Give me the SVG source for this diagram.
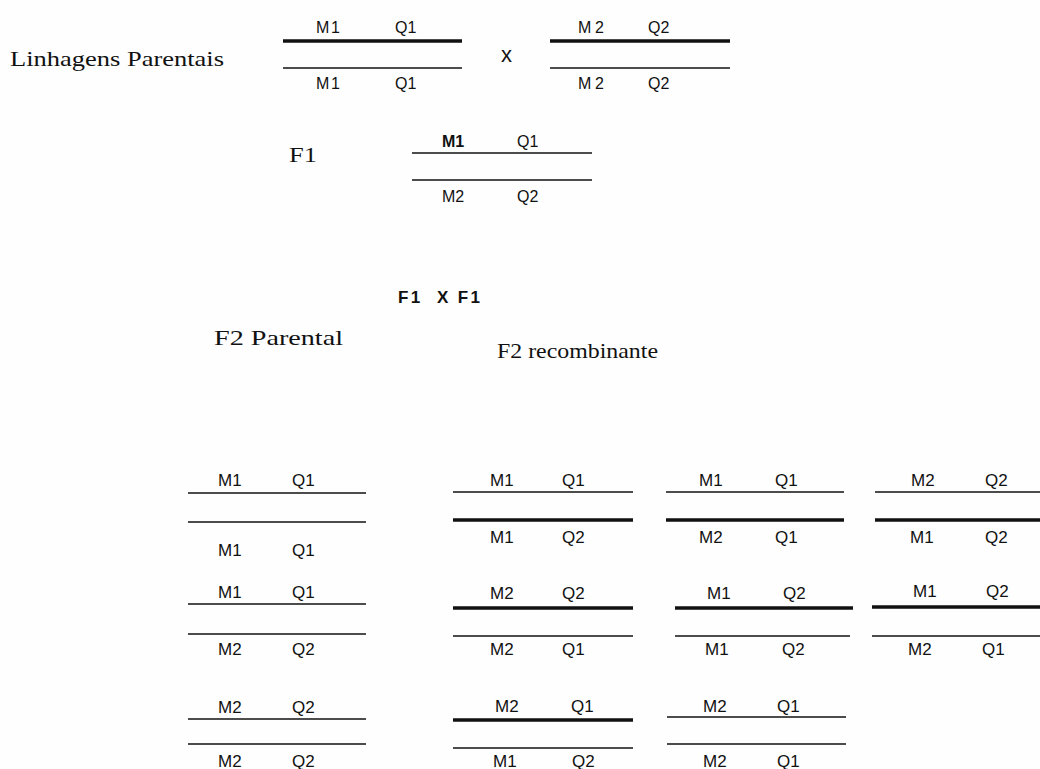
<svg xmlns="http://www.w3.org/2000/svg" width="1040" height="769" viewBox="0 0 1040 769">
<style>
.bg{fill:#fefefe}
.serif{font-family:"Liberation Serif","Times New Roman",serif;font-size:21px;fill:#111}
.lab{font-family:"Liberation Sans",Arial,sans-serif;font-size:17px;fill:#111}
.labt{font-family:"Liberation Sans",Arial,sans-serif;font-size:16px;fill:#111}
.cross{font-family:"Liberation Sans",Arial,sans-serif;font-size:22px;fill:#111}
.bold{font-weight:bold}
.thin{stroke:#111;stroke-width:1.5;fill:none}
.thick{stroke:#111;stroke-width:3.5;fill:none}
</style>
<rect class="bg" x="0" y="0" width="1040" height="769"/>

<g id="title-parentais">
<text class="serif" x="10" y="66" textLength="214" lengthAdjust="spacingAndGlyphs">Linhagens Parentais</text>
</g>

<g id="parent1">
<text class="labt" x="316" y="33" textLength="24" lengthAdjust="spacing">M1</text>
<text class="labt" x="395" y="33">Q1</text>
<line class="thick" x1="283" y1="41" x2="462" y2="41"/>
<line class="thin" x1="283" y1="68" x2="462" y2="68"/>
<text class="labt" x="316" y="89" textLength="24" lengthAdjust="spacing">M1</text>
<text class="labt" x="395" y="89">Q1</text>
</g>

<g id="cross-x">
<text class="cross" x="501" y="62">x</text>
</g>

<g id="parent2">
<text class="labt" x="578" y="33" textLength="26" lengthAdjust="spacing">M2</text>
<text class="labt" x="648" y="33">Q2</text>
<line class="thick" x1="550" y1="41" x2="730" y2="41"/>
<line class="thin" x1="550" y1="68" x2="730" y2="68"/>
<text class="labt" x="578" y="89" textLength="26" lengthAdjust="spacing">M2</text>
<text class="labt" x="648" y="89">Q2</text>
</g>

<g id="f1-label">
<text class="serif" x="289" y="162" textLength="28" lengthAdjust="spacingAndGlyphs">F1</text>
</g>

<g id="f1">
<text class="labt bold" x="442" y="147">M1</text>
<text class="labt" x="517" y="147">Q1</text>
<line class="thin" x1="412" y1="153" x2="592" y2="153"/>
<line class="thin" x1="412" y1="180" x2="592" y2="180"/>
<text class="labt" x="442" y="202">M2</text>
<text class="labt" x="517" y="202">Q2</text>
</g>

<g id="f1xf1">
<text class="lab bold" x="398" y="303" textLength="82" lengthAdjust="spacing" xml:space="preserve">F1  X F1</text>
</g>

<g id="f2-parental-label">
<text class="serif" x="214" y="345" textLength="129" lengthAdjust="spacingAndGlyphs">F2 Parental</text>
</g>

<g id="f2-recombinante-label">
<text class="serif" x="497" y="358" textLength="161" lengthAdjust="spacingAndGlyphs">F2 recombinante</text>
</g>

<g id="p-1">
<text class="lab" x="218" y="486">M1</text>
<text class="lab" x="292" y="486">Q1</text>
<line class="thin" x1="188" y1="493" x2="366" y2="493"/>
<line class="thin" x1="188" y1="522" x2="366" y2="522"/>
<text class="lab" x="218" y="556">M1</text>
<text class="lab" x="292" y="556">Q1</text>
</g>

<g id="p-2">
<text class="lab" x="218" y="598">M1</text>
<text class="lab" x="292" y="598">Q1</text>
<line class="thin" x1="188" y1="604" x2="366" y2="604"/>
<line class="thin" x1="188" y1="634" x2="366" y2="634"/>
<text class="lab" x="218" y="655">M2</text>
<text class="lab" x="292" y="655">Q2</text>
</g>

<g id="p-3">
<text class="lab" x="218" y="713">M2</text>
<text class="lab" x="292" y="713">Q2</text>
<line class="thin" x1="188" y1="719" x2="366" y2="719"/>
<line class="thin" x1="188" y1="744" x2="366" y2="744"/>
<text class="lab" x="218" y="767">M2</text>
<text class="lab" x="292" y="767">Q2</text>
</g>

<g id="r-1-1">
<text class="lab" x="490" y="486">M1</text>
<text class="lab" x="562" y="486">Q1</text>
<line class="thin" x1="453" y1="492" x2="633" y2="492"/>
<line class="thick" x1="453" y1="520" x2="633" y2="520"/>
<text class="lab" x="490" y="543">M1</text>
<text class="lab" x="562" y="543">Q2</text>
</g>

<g id="r-1-2">
<text class="lab" x="490" y="599">M2</text>
<text class="lab" x="562" y="599">Q2</text>
<line class="thick" x1="453" y1="608" x2="633" y2="608"/>
<line class="thin" x1="453" y1="636" x2="633" y2="636"/>
<text class="lab" x="490" y="655">M2</text>
<text class="lab" x="562" y="655">Q1</text>
</g>

<g id="r-1-3">
<text class="lab" x="495" y="712">M2</text>
<text class="lab" x="571" y="712">Q1</text>
<line class="thick" x1="453" y1="720" x2="633" y2="720"/>
<line class="thin" x1="453" y1="748" x2="633" y2="748"/>
<text class="lab" x="493" y="767">M1</text>
<text class="lab" x="572" y="767">Q2</text>
</g>

<g id="r-2-1">
<text class="lab" x="699" y="486">M1</text>
<text class="lab" x="775" y="486">Q1</text>
<line class="thin" x1="666" y1="492" x2="844" y2="492"/>
<line class="thick" x1="666" y1="520" x2="844" y2="520"/>
<text class="lab" x="699" y="543">M2</text>
<text class="lab" x="775" y="543">Q1</text>
</g>

<g id="r-2-2">
<text class="lab" x="707" y="599">M1</text>
<text class="lab" x="783" y="599">Q2</text>
<line class="thick" x1="675" y1="608" x2="853" y2="608"/>
<line class="thin" x1="675" y1="636" x2="850" y2="636"/>
<text class="lab" x="705" y="655">M1</text>
<text class="lab" x="782" y="655">Q2</text>
</g>

<g id="r-2-3">
<text class="lab" x="703" y="712">M2</text>
<text class="lab" x="777" y="712">Q1</text>
<line class="thin" x1="667" y1="717" x2="846" y2="717"/>
<line class="thin" x1="667" y1="744" x2="846" y2="744"/>
<text class="lab" x="703" y="767">M2</text>
<text class="lab" x="777" y="767">Q1</text>
</g>

<g id="r-3-1">
<text class="lab" x="911" y="486">M2</text>
<text class="lab" x="985" y="486">Q2</text>
<line class="thin" x1="875" y1="492" x2="1040" y2="492"/>
<line class="thick" x1="875" y1="520" x2="1040" y2="520"/>
<text class="lab" x="910" y="543">M1</text>
<text class="lab" x="985" y="543">Q2</text>
</g>

<g id="r-3-2">
<text class="lab" x="913" y="597">M1</text>
<text class="lab" x="986" y="597">Q2</text>
<line class="thick" x1="872" y1="607" x2="1040" y2="607"/>
<line class="thin" x1="872" y1="636" x2="1040" y2="636"/>
<text class="lab" x="908" y="655">M2</text>
<text class="lab" x="982" y="655">Q1</text>
</g>

<g id="connectors"></g>
</svg>
